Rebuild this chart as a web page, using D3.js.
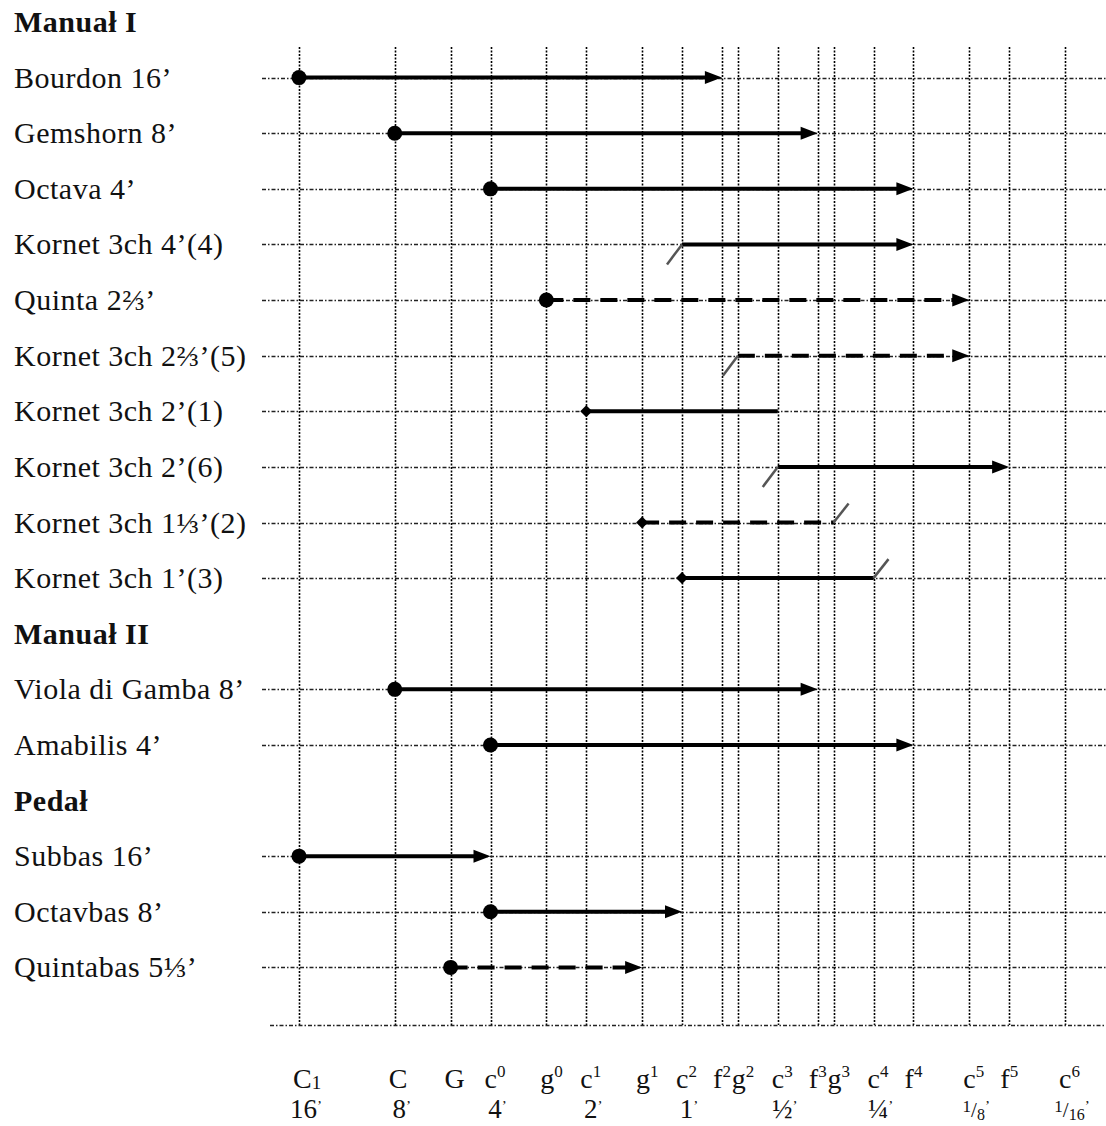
<!DOCTYPE html>
<html><head><meta charset="utf-8">
<script src="https://cdn.jsdelivr.net/npm/d3@7"></script>
<style>body{margin:0;background:#fff}svg{display:block}text{font-family:"Liberation Serif","Times New Roman",serif;fill:#111}</style>
</head><body>
<script>
// ---- data ----
const noteNames   = ["C1","C","G","c0","g0","c1","g1","c2","f2","g2","c3","f3","g3","c4","f4","c5","f5","c6"];
const notePitches = [24,36,43,48,55,60,67,72,77,79,84,89,91,96,101,108,113,120];
const footLabels  = ["16","8","4","2","1","½","¼","1/8","1/16"];
const footNotes   = ["C1","C","c0","c1","c2","c3","c4","c5","c6"];

const rowLabels = ["Manuał I","Bourdon 16’","Gemshorn 8’","Octava 4’","Kornet 3ch 4’(4)","Quinta 2⅔’",
  "Kornet 3ch 2⅔’(5)","Kornet 3ch 2’(1)","Kornet 3ch 2’(6)","Kornet 3ch 1⅓’(2)","Kornet 3ch 1’(3)",
  "Manuał II","Viola di Gamba 8’","Amabilis 4’","Pedał","Subbas 16’","Octavbas 8’","Quintabas 5⅓’"];
const rowIsHeader = [1,0,0,0,0,0,0,0,0,0,0,1,0,0,1,0,0,0];
const startNotes  = [null,"C1","C","c0","c2","g0","g2","c1","c3","g1","c2",null,"C","c0",null,"C1","c0","G"];
const endNotes    = [null,"f2","f3","f4","f4","c5","c5","c3","f5","g3","c4",null,"f3","f4",null,"c0","c2","g1"];
const startMarks  = [null,"dot","dot","dot","slash","dot","slash","diamond","slash","diamond","diamond",null,"dot","dot",null,"dot","dot","dot"];
const endMarks    = [null,"arrow","arrow","arrow","arrow","arrow","arrow","none","arrow","slash","slash",null,"arrow","arrow",null,"arrow","arrow","arrow"];
const lineStyles  = [null,"solid","solid","solid","solid","dashed","dashed","solid","solid","dashed","solid",null,"solid","solid",null,"solid","solid","dashed"];

// ---- chart ----
const W = 1106, H = 1126;
const svg = d3.select("body").append("svg").attr("width", W).attr("height", H);
const pitchOf = n => notePitches[noteNames.indexOf(n)];
const x = d3.scaleLinear().domain([24,120]).range([299,1065]);
const y = d3.scaleLinear().domain([0,18]).range([22,1023]);
const gridTop = 47, gridBottom = y(18) + 2;
const crisp = v => Math.round(v) + 0.5;

// vertical dotted grid
svg.append("g").selectAll("line").data(notePitches).join("line")
  .attr("x1", d => crisp(x(d))).attr("x2", d => crisp(x(d)))
  .attr("y1", gridTop).attr("y2", gridBottom)
  .attr("stroke", "#000").attr("stroke-width", 1.6).attr("stroke-dasharray", "2,1.5");

// horizontal row lines
const stopIdx = d3.range(rowLabels.length).filter(i => !rowIsHeader[i]);
svg.append("g").selectAll("line").data(stopIdx).join("line")
  .attr("x1", 262).attr("x2", W).attr("y1", i => crisp(y(i))).attr("y2", i => crisp(y(i)))
  .attr("stroke", "#222").attr("stroke-width", 1.3).attr("stroke-dasharray", "4,2,1.5,2");
// bottom line
svg.append("line").attr("x1", 270).attr("x2", W).attr("y1", crisp(gridBottom)).attr("y2", crisp(gridBottom))
  .attr("stroke", "#222").attr("stroke-width", 1.3).attr("stroke-dasharray", "4,2,1.5,2");

// row labels
svg.append("g").selectAll("text").data(rowLabels).join("text")
  .attr("x", 14).attr("y", (d, i) => y(i) + 10)
  .attr("font-size", 30).attr("letter-spacing", 0.5)
  .attr("font-weight", (d, i) => rowIsHeader[i] ? "bold" : "normal")
  .text(d => d);

// stop ranges
const marks = svg.append("g");
stopIdx.forEach(i => {
  const x0 = x(pitchOf(startNotes[i])), x1 = x(pitchOf(endNotes[i])), yy = y(i);
  const arrowLen = 17, arrowHalf = 6.5;
  const lineEnd = endMarks[i] === "arrow" ? x1 - arrowLen + 2 : x1;
  marks.append("line").attr("x1", x0).attr("x2", lineEnd).attr("y1", yy).attr("y2", yy)
    .attr("stroke", "#000").attr("stroke-width", 4)
    .attr("stroke-dasharray", lineStyles[i] === "dashed" ? "17,10" : null);
  if (endMarks[i] === "arrow") {
    marks.append("path").attr("d", `M${x1},${yy} L${x1-arrowLen},${yy-arrowHalf} L${x1-arrowLen},${yy+arrowHalf} Z`).attr("fill", "#000");
  } else if (endMarks[i] === "slash") {
    marks.append("line").attr("x1", x1).attr("y1", yy).attr("x2", x1 + 15).attr("y2", yy - 19)
      .attr("stroke", "#555").attr("stroke-width", 2.5);
  }
  if (startMarks[i] === "dot") {
    marks.append("circle").attr("cx", x0).attr("cy", yy).attr("r", 7.5).attr("fill", "#000");
  } else if (startMarks[i] === "diamond") {
    marks.append("path").attr("d", `M${x0-6},${yy} L${x0},${yy-6} L${x0+6},${yy} L${x0},${yy+6} Z`).attr("fill", "#000");
  } else if (startMarks[i] === "slash") {
    marks.append("line").attr("x1", x0).attr("y1", yy).attr("x2", x0 - 15).attr("y2", yy + 20)
      .attr("stroke", "#555").attr("stroke-width", 2.5);
  }
});

// bottom note labels (f-labels end just right of their line so f/g pairs do not collide)
const noteG = svg.append("g");
noteNames.forEach((n, k) => {
  const isF = n[0] === "f";
  const t = noteG.append("text")
    .attr("x", isF ? x(notePitches[k]) + 9 : x(notePitches[k]) - 6).attr("y", 1088)
    .attr("font-size", 28).attr("text-anchor", isF ? "end" : "start");
  t.append("tspan").text(n[0]);
  if (n.length > 1) {
    if (n === "C1") t.append("tspan").attr("font-size", 19).attr("dy", 1).text(n.slice(1));
    else t.append("tspan").attr("font-size", 17).attr("dy", -11).text(n.slice(1));
  }
});
// bottom foot labels
const footG = svg.append("g");
footLabels.forEach((f, k) => {
  const t = footG.append("text").attr("x", x(pitchOf(footNotes[k])) + 7).attr("y", 1118)
    .attr("font-size", 27).attr("text-anchor", "middle");
  if (f.includes("/")) {
    const [a, b] = f.split("/");
    t.append("tspan").attr("font-size", 17).attr("dy", -6).text(a);
    t.append("tspan").attr("font-size", 21).attr("dy", 5).text("/");
    t.append("tspan").attr("font-size", 16).attr("dy", 3).text(b);
    t.append("tspan").attr("font-size", 15).attr("dy", -9).text("’");
  } else {
    t.append("tspan").text(f);
    t.append("tspan").attr("font-size", 15).attr("dy", -7).text("’");
  }
});
</script>
</body></html>
